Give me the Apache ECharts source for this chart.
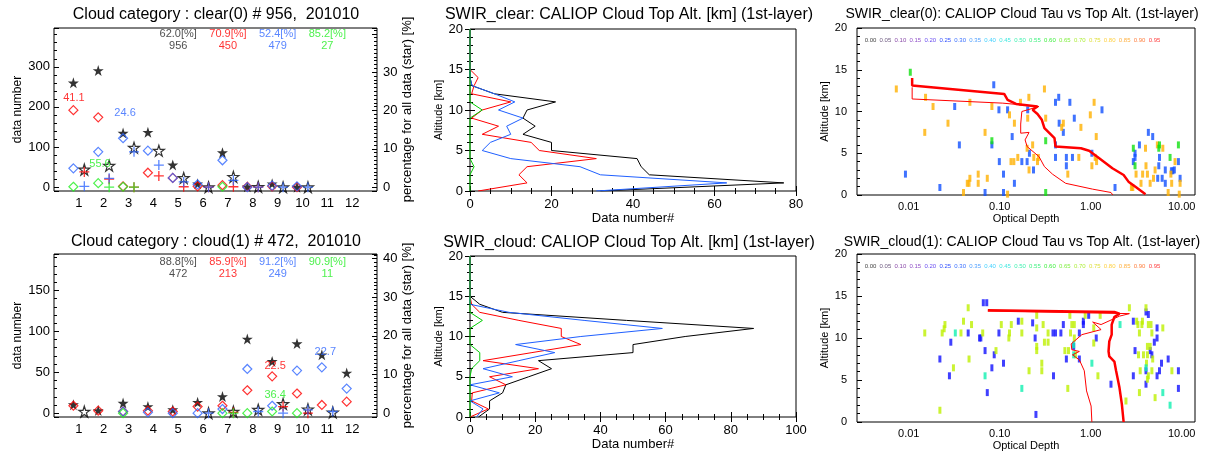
<!DOCTYPE html>
<html>
<head>
<meta charset="utf-8">
<script src="https://cdn.jsdelivr.net/npm/echarts@6/dist/echarts.min.js"></script>
<style>
html, body { margin: 0; padding: 0; background: #fff; }
#main { width: 1213px; height: 455px; }
</style>
</head>
<body>
<div id="main"></div>
<script>
var FONT = 'Liberation Sans';

// ---- left panels: cloud category histogram ----
var cats = [1, 2, 3, 4, 5, 6, 7, 8, 9, 10, 11, 12];

// clear(0): stars are % of all data (right axis), the rest data number (left axis)
var clearStarFill  = [27.2, 30.4, 14.1, 14.3, 5.8, 0.9, 9.0, 0.1, 0.9, 0, null, null];
var clearStarOpen  = [4.6, 5.6, 10.3, 9.5, 2.4, 0, 2.7, 0.1, 0, 0, null, null];
var clearRedDia    = [192, 174, 2, 36, 23, 2, 5, 1, 2, 0, null, null];
var clearBlueDia   = [47, 88, 122, 91, 23, 7, 67, 0, 4, 2, null, null];
var clearGreenDia  = [1, 10, 1, null, null, null, 1, null, null, null, null, null];
var clearRedCross  = [38, 20, 0, 28, 1, 0, 1, 0, null, null, null, null];
var clearBlueCross = [2, 22, 88, 55, 13, 0, 17, 0, 0, 0, null, null];
var clearGreenCross = [null, 0, 0, null, null, null, null, null, null, null, null, null];
var clearTotPct = ['62.0[%]', '70.9[%]', '52.4[%]', '85.2[%]'];
var clearTotNum = ['956', '450', '479', '27'];
var clearPeak   = ['41.1', '24.6', '55.6'];

// cloud(1)
var cloudStarFill  = [2.2, 0.7, 2.6, 1.7, 0.9, 2.8, 4.3, 19.2, 13.4, 18.0, 15.1, 10.4];
var cloudStarOpen  = [0.4, null, null, null, null, 0, 0.4, 0.9, 2.4, 1.0, 0.2, null];
var cloudRedDia    = [9, 3, 2, 3, 2, 8, 9, 28, 45, 24, 10, 14];
var cloudBlueDia   = [null, null, 2, 1, 0, 0, 5, 54, 9, 52, 56, 30];
var cloudGreenDia  = [null, null, 0, null, null, null, 0, 0, 2, 0, null, null];
var cloudRedCross  = [null, null, null, null, null, null, 1, null, 8, 0, null, null];
var cloudBlueCross = [null, null, null, null, null, 0, null, 2, 0, 4, 2, null];
var cloudGreenCross = [null, null, null, null, null, null, 0, null, null, null, null, null];
var cloudTotPct = ['88.8[%]', '85.9[%]', '91.2[%]', '90.9[%]'];
var cloudTotNum = ['472', '213', '249', '11'];
var cloudPeak   = ['22.5', '22.7', '36.4'];

// ---- middle panels: cloud top altitude profiles ----
var altKm = [0, 1, 2, 3, 4, 5, 6, 7, 8, 9, 10, 11, 12, 13, 14, 15, 16, 17, 18, 19, 20];
var clearAltBlack = [32, 77, 44, 42, 41, 20, 20, 13, 16, 13, 14, 21, 6, 0.5, 0, 0, 0, 0, 0, 0, 0];
var clearAltRed   = [2, 14, 12, 14, 31, 17, 15, 3, 7, 0.4, 3, 10, 0.4, 1, 2, 0, 0, 0, 0, 0, 0];
var clearAltBlue  = [31, 63, 32, 27, 10, 3, 5, 10, 9, 13, 7, 11, 6, 0.5, 0, 0, 0, 0, 0, 0, 0];
var clearAltGreen = [0, 0, 0, 1, 0, 0, 0, 0, 0, 0, 3, 0, 0, 0, 0, 0, 0, 0, 0, 0, 0];
var cloudAltBlack = [2.6, 6, 6, 10, 11, 18, 25, 21, 50, 50, 66, 87, 48, 10, 3, 0, 0, 0, 0, 0, 0];
var cloudAltRed   = [0, 5.6, 0.5, 0.7, 11, 6, 21, 4, 19, 34, 28, 28, 15, 3, 0.5, 0, 0, 0, 0, 0, 0];
var cloudAltBlue  = [2, 4, 0, 9, 0, 13, 4, 15, 26, 14, 34, 59, 35, 12, 0, 0, 0, 0, 0, 0, 0];
var cloudAltGreen = [0, 0, 0, 0, 0, 0, 0.5, 3, 3, 0, 0, 0, 3.8, 0, 0, 0, 0, 0, 0, 0, 0];

// ---- right panels: tau vs top altitude, [tau, km] ----
var clearTauBlue = [[0.086,13.2],[0.445,11.7],[0.41,11.1],[0.59,11.1],[0.032,10.6],[0.098,10.2],[0.122,10.2],[0.203,10.2],[1.33,10.2],[0.66,9.2],[0.45,8.6],[0.5,7.5],[0.137,7.0],[4.3,7.5],[4.8,7.0],[0.036,6.0],[0.082,6.0],[0.41,6.0],[3.43,6.0],[3.07,5.0],[3.07,4.5],[0.212,5.0],[0.41,4.5],[0.54,4.5],[0.63,4.5],[1.03,5.0],[5.7,4.5],[0.099,4.0],[0.175,4.0],[0.2,4.0],[0.54,3.5],[2.94,4.0],[5.6,3.5],[9.2,4.0],[6.6,3.0],[8.3,3.0],[0.235,3.0],[0.11,2.5],[0.0092,2.5],[5.45,2.0],[6.1,2.0],[6.6,1.4],[9.6,2.0],[0.145,1.4],[0.022,0.9],[1.85,0.9],[0.069,0.3],[0.11,0.3],[8.0,2.9],[7.7,2.9]];
var clearTauOrange = [[0.0073,12.7],[0.31,12.7],[0.0153,11.7],[0.209,11.7],[1.09,11.1],[0.169,11.1],[0.047,11.1],[0.0185,10.6],[0.082,10.6],[0.128,9.6],[0.203,9.2],[0.32,9.2],[0.99,9.6],[0.027,8.6],[0.145,8.6],[0.5,8.6],[0.48,8.1],[0.78,8.1],[0.015,7.5],[0.069,7.5],[1.15,7.0],[0.2,5.6],[0.23,6.0],[5.4,6.0],[4.0,5.6],[6.2,5.6],[0.158,4.5],[0.237,4.5],[0.266,4.5],[0.74,4.5],[1.12,4.5],[0.133,4.0],[0.143,4.0],[0.26,4.0],[1.03,3.5],[1.16,4.0],[8.45,4.0],[4.05,3.5],[5.1,3.0],[7.6,2.5],[0.21,3.0],[0.56,2.5],[0.058,2.5],[3.15,2.5],[3.72,2.5],[4.2,2.5],[4.9,2.0],[4.5,1.4],[7.76,1.4],[9.6,1.4],[3.57,1.4],[2.9,0.9],[0.047,2.0],[0.046,1.4],[0.073,2.0],[0.058,1.4],[0.044,1.4],[0.040,0.3],[0.122,0.1],[7.1,0.3],[9.4,0.1],[2.8,0.9]];
var clearTauGreen = [[0.0104,14.7],[0.082,6.5],[0.32,6.5],[2.94,5.6],[5.7,6.0],[9.2,6.0],[7.45,4.5],[3.07,3.5],[0.32,0.3],[5.6,5.6]];
var clearTauThick = [[0.0109,14.0],[0.0109,13.1],[0.112,12.1],[0.122,11.4],[0.151,10.9],[0.26,10.6],[0.23,10.2],[0.26,9.7],[0.29,9.0],[0.31,8.0],[0.4,6.8],[0.41,5.8],[0.78,5.6],[0.96,5.3],[1.24,4.4],[1.73,3.2],[2.3,2.4],[2.6,1.6],[3.1,1.0],[4.0,0.1]];
var clearTauThin = [[0.0109,12.9],[0.0109,11.5],[0.108,11.0],[0.27,10.6],[0.175,10.0],[0.17,8.5],[0.17,7.4],[0.21,7.5],[0.19,6.6],[0.2,5.8],[0.27,4.6],[0.31,3.4],[0.38,2.5],[0.53,1.4],[1.05,0.7],[1.67,0.3],[1.75,0]];

var cloudTauBlue = [[0.066,14.2],[0.072,14.2],[4.05,13.1],[4.3,12.8],[0.95,12.7],[2.94,12.0],[0.16,12.0],[0.23,11.8],[0.5,11.6],[0.83,12.0],[0.83,11.6],[5.36,11.2],[0.045,10.6],[0.06,10.0],[0.062,10.0],[0.098,10.6],[0.245,10.0],[0.385,10.6],[0.41,10.6],[0.47,10.6],[0.75,10.6],[1.15,10.0],[5.36,10.0],[0.029,9.5],[0.069,8.5],[5.0,9.5],[0.65,9.0],[3.07,8.5],[4.5,8.5],[0.087,8.0],[4.7,8.0],[0.022,7.5],[0.54,7.5],[0.75,7.5],[6.0,7.0],[7.1,7.5],[0.11,7.0],[0.082,6.45],[4.05,6.1],[5.7,6.1],[9.2,6.1],[0.028,5.5],[0.39,5.5],[2.94,5.5],[5.36,5.5],[1.67,4.5],[4.05,4.5],[9.2,4.0],[0.073,3.5],[0.25,0.9]];
var cloudTauLime = [[0.045,13.6],[2.66,13.6],[4.05,13.6],[0.255,12.7],[0.59,12.7],[0.87,12.7],[1.27,12.7],[3.2,12.0],[3.7,12.0],[0.025,11.6],[0.049,11.6],[0.04,12.0],[0.104,11.6],[0.134,11.6],[0.175,12.0],[0.3,11.6],[0.62,11.6],[0.66,11.6],[1.08,11.2],[3.3,11.6],[3.65,11.6],[4.3,11.6],[4.6,11.6],[6.2,11.2],[0.015,10.6],[0.0245,11.1],[0.0233,10.6],[0.0375,10.6],[0.065,10.6],[0.126,10.0],[0.128,10.6],[0.175,10.6],[0.255,11.2],[0.34,10.6],[0.6,10.6],[0.66,10.0],[3.43,10.6],[4.7,10.6],[0.31,9.5],[0.34,9.5],[1.08,9.4],[4.2,9.0],[4.5,9.0],[0.255,9.0],[0.255,8.5],[0.52,8.5],[0.57,8.5],[0.091,8.5],[3.35,8.0],[3.8,8.0],[4.2,8.0],[0.68,8.0],[0.046,7.5],[4.8,7.5],[0.29,7.0],[4.1,7.0],[0.031,6.45],[0.21,6.1],[0.29,6.1],[3.5,6.1],[4.7,6.1],[7.8,6.1],[1.2,5.5],[4.2,5.1],[4.3,5.5],[0.56,4.0],[3.43,3.5],[5.1,2.9],[2.44,2.5],[0.022,1.4]];
var cloudTauTeal = [[0.0325,10.6],[2.1,11.6],[0.65,9.2],[0.65,8.0],[1.03,7.0],[4.05,6.45],[0.069,5.5],[0.175,4.0],[6.2,3.5],[7.45,2.0]];
var cloudTauThick = [[0.074,13.3],[1.82,13.1],[2.07,12.9],[1.82,12.5],[1.7,11.6],[1.7,10.4],[1.6,9.6],[1.57,8.4],[1.6,7.8],[1.82,7.2],[1.9,6.1],[2.07,4.1],[2.2,2.1],[2.3,0]];
var cloudTauThin = [[0.074,13.2],[2.66,12.9],[2.07,12.6],[1.3,11.6],[1.05,11.9],[1.3,11.0],[0.8,10.4],[0.61,9.3],[0.62,8.6],[0.75,8.4],[0.63,8.0],[0.75,7.4],[0.85,6.1],[0.9,3.7],[1.01,1.9],[1.03,0]];

var barLabels = ['0.00','0.05','0.10','0.15','0.20','0.25','0.30','0.35','0.40','0.45','0.50','0.55','0.60','0.65','0.70','0.75','0.80','0.85','0.90','0.95'];
var barColors = ['#444444','#6e5a80','#8a4aa8','#9050c8','#6a4ef0','#3050ff','#3a70ff','#50a0ff','#40d0ff','#40e8e0','#40f0b0','#40f080','#40ee40','#80ee40','#b0ee40','#e0e040','#ffd040','#ffb040','#ff8040','#ff4040'];

var RED = '#ff0000', BLUE = '#2f66ff', GREEN = '#22ee22', BLACK = '#000000';
var STAR = 'path://M0,-1L0.2245,-0.309L0.951,-0.309L0.363,0.118L0.588,0.809L0,0.382L-0.588,0.809L-0.363,0.118L-0.951,-0.309L-0.2245,-0.309Z';
var DIAM = 'path://M0,-1L1,0L0,1L-1,0Z';
var PLUS = 'path://M-0.13,-1H0.13V-0.13H1V0.13H0.13V1H-0.13V0.13H-1V-0.13H-0.13Z';

var grids = [
  {left: 54, top: 28, width: 323, height: 163},
  {left: 54, top: 254, width: 323, height: 163},
  {left: 470, top: 29, width: 326, height: 162},
  {left: 470, top: 256, width: 326, height: 161},
  {left: 857, top: 28, width: 338, height: 167},
  {left: 857, top: 254, width: 338, height: 168}
];

function axis(gi, pos, min, max, extra) {
  var a = {
    type: 'value', gridIndex: gi, position: pos, min: min, max: max,
    axisLine: {show: false},
    splitLine: {show: false},
    axisTick: {show: true, inside: true, length: 5, lineStyle: {color: '#000'}},
    axisLabel: {show: false, color: '#000', fontFamily: FONT, fontSize: 13},
    nameTextStyle: {color: '#000', fontFamily: FONT, fontSize: 13}
  };
  for (var k in extra) {
    if (a[k] && typeof a[k] === 'object' && !Array.isArray(a[k])) Object.assign(a[k], extra[k]);
    else a[k] = extra[k];
  }
  return a;
}
var minor = function (n) { return {show: true, splitNumber: n, length: 3, lineStyle: {color: '#000'}}; };
var catLabel = function (v) { return (v >= 1 && v <= 12) ? String(v) : ''; };
var tauLabel = function (v) { return v.toFixed(2); };

var xAxes = [
  axis(0, 'bottom', 0, 13, {interval: 1, axisTick: {show: false}, axisLabel: {show: true, margin: 6, formatter: catLabel}}),
  axis(1, 'bottom', 0, 13, {interval: 1, axisTick: {show: false}, axisLabel: {show: true, margin: 6, formatter: catLabel}}),
  axis(2, 'bottom', 0, 80, {interval: 20, minorTick: minor(4), axisLabel: {show: true, margin: 7},
    name: 'Data number#', nameLocation: 'middle', nameGap: 21}),
  axis(2, 'top', 0, 80, {interval: 20, minorTick: minor(4)}),
  axis(3, 'bottom', 0, 100, {interval: 20, minorTick: minor(4), axisLabel: {show: true, margin: 7},
    name: 'Data number#', nameLocation: 'middle', nameGap: 21}),
  axis(3, 'top', 0, 100, {interval: 20, minorTick: minor(4)}),
  axis(4, 'bottom', 0.0027, 14, {type: 'log', logBase: 10, axisTick: {show: false},
    axisLabel: {show: true, fontSize: 11, margin: 6, formatter: tauLabel, showMinLabel: false, showMaxLabel: false},
    name: 'Optical Depth', nameLocation: 'middle', nameGap: 18, nameTextStyle: {fontSize: 11}}),
  axis(5, 'bottom', 0.0027, 14, {type: 'log', logBase: 10, axisTick: {show: false},
    axisLabel: {show: true, fontSize: 11, margin: 6, formatter: tauLabel, showMinLabel: false, showMaxLabel: false},
    name: 'Optical Depth', nameLocation: 'middle', nameGap: 18, nameTextStyle: {fontSize: 11}})
];

var yAxes = [
  axis(0, 'left', -9.56, 396.7, {splitNumber: 4, minorTick: minor(5),
    axisLabel: {show: true, margin: 4, showMinLabel: false, showMaxLabel: false},
    name: 'data number', nameLocation: 'middle', nameGap: 30, nameRotate: 90, nameTextStyle: {fontSize: 12}}),
  axis(0, 'right', -1, 41.5, {splitNumber: 4, minorTick: minor(10),
    axisLabel: {show: true, margin: 6, formatter: function (v) { return (v >= 0 && v <= 30) ? String(v) : ''; }},
    name: 'percentage for all data (star) [%]', nameLocation: 'middle', nameGap: 24, nameRotate: 90}),
  axis(1, 'left', -4.72, 194.5, {splitNumber: 4, minorTick: minor(5),
    axisLabel: {show: true, margin: 4, showMinLabel: false, showMaxLabel: false},
    name: 'data number', nameLocation: 'middle', nameGap: 30, nameRotate: 90, nameTextStyle: {fontSize: 12}}),
  axis(1, 'right', -1, 41.2, {splitNumber: 4, minorTick: minor(10),
    axisLabel: {show: true, margin: 6, formatter: function (v) { return (v >= 0 && v <= 40) ? String(v) : ''; }},
    name: 'percentage for all data (star) [%]', nameLocation: 'middle', nameGap: 24, nameRotate: 90}),
  axis(2, 'left', 0, 20, {interval: 5, minorTick: minor(5), axisLabel: {show: true, margin: 7},
    name: 'Altitude [km]', nameLocation: 'middle', nameGap: 26, nameRotate: 90, nameTextStyle: {fontSize: 11}}),
  axis(2, 'right', 0, 20, {interval: 5, minorTick: minor(5)}),
  axis(3, 'left', 0, 20, {interval: 5, minorTick: minor(5), axisLabel: {show: true, margin: 7},
    name: 'Altitude [km]', nameLocation: 'middle', nameGap: 26, nameRotate: 90, nameTextStyle: {fontSize: 11}}),
  axis(3, 'right', 0, 20, {interval: 5, minorTick: minor(5)}),
  axis(4, 'left', 0, 20, {interval: 5, minorTick: minor(5), axisLabel: {show: true, margin: 10, fontSize: 11},
    name: 'Altitude [km]', nameLocation: 'middle', nameGap: 24, nameRotate: 90, nameTextStyle: {fontSize: 11}}),
  axis(5, 'left', 0, 20, {interval: 5, minorTick: minor(5), axisLabel: {show: true, margin: 10, fontSize: 11},
    name: 'Altitude [km]', nameLocation: 'middle', nameGap: 24, nameRotate: 90, nameTextStyle: {fontSize: 11}})
];

function pts(vals, off) {
  var out = [];
  vals.forEach(function (v, i) { if (v !== null) out.push([cats[i] + off, v]); });
  return out;
}
function marks(data, xi, yi, sym, size, color, open) {
  return {
    type: 'scatter', xAxisIndex: xi, yAxisIndex: yi, data: data,
    symbol: sym, symbolSize: size, silent: true,
    itemStyle: open ? {color: 'rgba(0,0,0,0)', borderColor: color, borderWidth: 1.2}
                    : {color: color, borderWidth: 0}
  };
}
function texts(items, xi, yi) {
  return {
    type: 'scatter', xAxisIndex: xi, yAxisIndex: yi, symbolSize: 0, silent: true, z: 5,
    data: items.map(function (it) {
      return {value: it[0], name: it[1], label: {color: it[2]}};
    }),
    label: {show: true, position: 'inside', formatter: '{b}', fontSize: 11, fontFamily: FONT}
  };
}

function catPanel(p, d) {
  var xi = p, yl = 2 * p, yr = 2 * p + 1;
  var L = -0.22, R = 0.22;
  var top = d.topY;
  return [
    marks(pts(d.starFill, L), xi, yr, STAR, 11, BLACK, false),
    marks(pts(d.starOpen, R), xi, yr, STAR, 11, BLACK, true),
    marks(pts(d.redDia, L), xi, yl, DIAM, 9, RED, true),
    marks(pts(d.blueDia, L), xi, yl, DIAM, 9, BLUE, true),
    marks(pts(d.greenDia, L), xi, yl, DIAM, 9, GREEN, true),
    marks(pts(d.redCross, R), xi, yl, PLUS, 10, RED, false),
    marks(pts(d.blueCross, R), xi, yl, PLUS, 10, BLUE, false),
    marks(pts(d.greenCross, R), xi, yl, PLUS, 10, GREEN, false),
    texts([
      [[5, top[0]], d.totPct[0], '#222'], [[7, top[0]], d.totPct[1], RED],
      [[9, top[0]], d.totPct[2], BLUE], [[11, top[0]], d.totPct[3], GREEN],
      [[5, top[1]], d.totNum[0], '#222'], [[7, top[1]], d.totNum[1], RED],
      [[9, top[1]], d.totNum[2], BLUE], [[11, top[1]], d.totNum[3], GREEN],
      [d.peakPos[0], d.peak[0], RED], [d.peakPos[1], d.peak[1], BLUE], [d.peakPos[2], d.peak[2], GREEN]
    ], xi, yl)
  ];
}

function profile(vals, xi, yi, color) {
  return {
    type: 'line', xAxisIndex: xi, yAxisIndex: yi, showSymbol: false, silent: true,
    data: vals.map(function (v, i) { return [v, altKm[i]]; }),
    lineStyle: {color: color, width: 1}
  };
}
function dots(data, xi, yi, color) {
  return {type: 'scatter', xAxisIndex: xi, yAxisIndex: yi, data: data, symbol: 'rect',
    symbolSize: [3, 7], silent: true, itemStyle: {color: color}};
}
function tauLine(data, xi, yi, w) {
  return {type: 'line', xAxisIndex: xi, yAxisIndex: yi, data: data, showSymbol: false, silent: true,
    z: 4, lineStyle: {color: RED, width: w}};
}

var series = [].concat(
  catPanel(0, {starFill: clearStarFill, starOpen: clearStarOpen, redDia: clearRedDia, blueDia: clearBlueDia,
    greenDia: clearGreenDia, redCross: clearRedCross, blueCross: clearBlueCross, greenCross: clearGreenCross,
    totPct: clearTotPct, totNum: clearTotNum, peak: clearPeak, topY: [382, 351],
    peakPos: [[0.8, 223], [2.86, 186], [1.85, 57]]}),
  catPanel(1, {starFill: cloudStarFill, starOpen: cloudStarOpen, redDia: cloudRedDia, blueDia: cloudBlueDia,
    greenDia: cloudGreenDia, redCross: cloudRedCross, blueCross: cloudBlueCross, greenCross: cloudGreenCross,
    totPct: cloudTotPct, totNum: cloudTotNum, peak: cloudPeak, topY: [185, 170],
    peakPos: [[8.9, 58], [10.92, 75], [8.9, 22]]}),
  [
    profile(clearAltBlack, 2, 4, BLACK), profile(clearAltRed, 2, 4, RED),
    profile(clearAltBlue, 2, 4, '#1f5fff'), profile(clearAltGreen, 2, 4, '#00cc00'),
    profile(cloudAltBlack, 4, 6, BLACK), profile(cloudAltRed, 4, 6, RED),
    profile(cloudAltBlue, 4, 6, '#1f5fff'), profile(cloudAltGreen, 4, 6, '#00cc00'),
    dots(clearTauBlue, 6, 8, '#1050ff'), dots(clearTauOrange, 6, 8, '#ffb000'), dots(clearTauGreen, 6, 8, '#10e010'),
    tauLine(clearTauThick, 6, 8, 2.5), tauLine(clearTauThin, 6, 8, 1),
    dots(cloudTauBlue, 7, 9, '#1010ff'), dots(cloudTauLime, 7, 9, '#bef000'), dots(cloudTauTeal, 7, 9, '#10f0b0'),
    tauLine(cloudTauThick, 7, 9, 2.5), tauLine(cloudTauThin, 7, 9, 1)
  ]
);

function title(text, x, y, size) {
  return {type: 'text', x: x, y: y, silent: true,
    style: {text: text, fill: '#000', fontFamily: FONT, fontSize: size,
      align: 'center', verticalAlign: 'middle', textAlign: 'center', textVerticalAlign: 'middle'}};
}
var graphics = [
  title('Cloud category : clear(0) # 956,  201010', 216, 15, 16),
  title('Cloud category : cloud(1) # 472,  201010', 216, 242, 16),
  title('SWIR_clear: CALIOP Cloud Top Alt. [km] (1st-layer)', 629, 15, 16),
  title('SWIR_cloud: CALIOP Cloud Top Alt. [km] (1st-layer)', 629, 243, 16),
  title('SWIR_clear(0): CALIOP Cloud Tau vs Top Alt. (1st-layer)', 1022, 14, 14),
  title('SWIR_cloud(1): CALIOP Cloud Tau vs Top Alt. (1st-layer)', 1022, 242, 14)
];
[4, 5].forEach(function (gi) {
  var g = grids[gi];
  barLabels.forEach(function (t, i) {
    graphics.push({type: 'text', x: g.left + 13.5 + i * 14.95, y: g.top + 12, silent: true,
      style: {text: t, fill: barColors[i], fontFamily: FONT, fontSize: 6,
        align: 'center', verticalAlign: 'middle', textAlign: 'center', textVerticalAlign: 'middle'}});
  });
});

var chart = echarts.init(document.getElementById('main'));
chart.setOption({
  animation: false,
  backgroundColor: '#fff',
  textStyle: {fontFamily: FONT},
  grid: grids.map(function (g) {
    return Object.assign({show: true, borderColor: '#000', borderWidth: 1, backgroundColor: 'transparent'}, g);
  }),
  xAxis: xAxes,
  yAxis: yAxes,
  series: series,
  graphic: graphics
});
</script>
</body>
</html>
